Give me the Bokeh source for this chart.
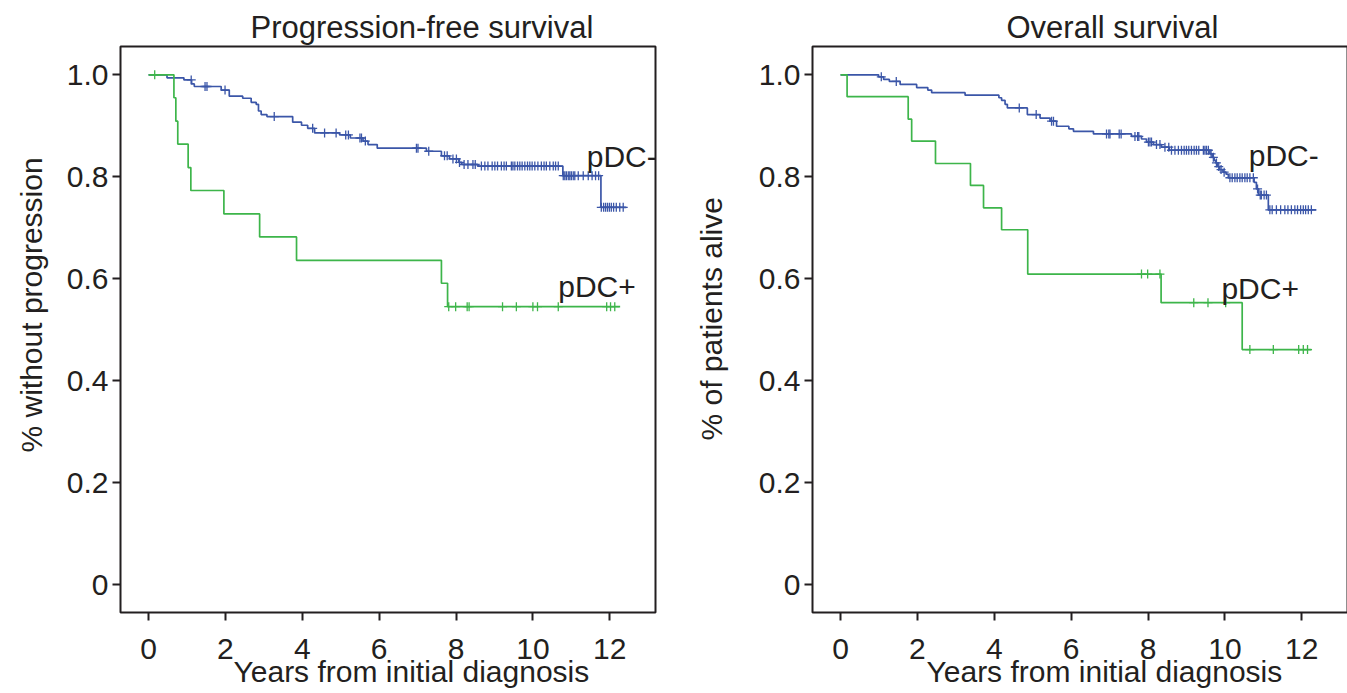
import numpy as np
from bokeh.plotting import figure
from bokeh.layouts import row
from bokeh.models import Range1d, FixedTicker, NumeralTickFormatter, Label, Title
from bokeh.embed import file_html
from bokeh.resources import INLINE

# ---------------- data ----------------
x_ticks = [0, 2, 4, 6, 8, 10, 12]
y_ticks = [0, 0.2, 0.4, 0.6, 0.8, 1]

# Progression-free survival, pDC- (blue)
pfs_neg_t = [0, 0.48, 0.92, 1.12, 1.19, 1.89, 2.10, 2.45, 2.67, 2.80, 2.86, 2.93, 3.08,
             3.75, 3.98, 4.14, 4.32, 4.97, 5.25, 5.58, 5.71, 5.95, 7.23, 7.62, 7.83,
             8.07, 8.15, 8.57, 10.78, 11.77]
pfs_neg_s = [1.0, 0.994, 0.990, 0.982, 0.977, 0.970, 0.958, 0.954, 0.946, 0.942, 0.929,
             0.922, 0.918, 0.907, 0.901, 0.895, 0.886, 0.882, 0.876, 0.870, 0.863, 0.856,
             0.850, 0.841, 0.835, 0.828, 0.824, 0.821, 0.802, 0.740]
pfs_neg_end = 12.43
pfs_neg_cens = [1.11, 1.47, 1.52, 1.99, 3.27, 4.27, 4.58, 4.88, 5.13, 5.20, 5.50, 5.54,
                5.64, 6.97, 7.01, 7.29, 7.70, 7.77, 7.92, 8.01, 8.09, 8.21, 8.31, 8.44,
                8.50, 8.66, 8.75, 8.83, 8.94, 9.01, 9.08, 9.18, 9.25, 9.31, 9.44, 9.48,
                9.53, 9.60, 9.66, 9.72, 9.79, 9.86, 9.92, 9.98, 10.05, 10.13, 10.22,
                10.29, 10.35, 10.44, 10.53, 10.59, 10.66, 10.79, 10.83, 10.87, 10.92,
                10.96, 11.00, 11.05, 11.09, 11.18, 11.31, 11.44, 11.54, 11.63, 11.71,
                11.78, 11.84, 11.89, 11.94, 11.99, 12.04, 12.10, 12.17, 12.26, 12.35]

# Progression-free survival, pDC+ (green)
pfs_pos_t = [0, 0.66, 0.71, 0.76, 1.03, 1.10, 1.96, 2.89, 3.85, 7.62, 7.78]
pfs_pos_s = [1.0, 0.955, 0.909, 0.864, 0.818, 0.773, 0.727, 0.682, 0.636, 0.591, 0.545]
pfs_pos_end = 12.27
pfs_pos_cens = [0.16, 7.81, 7.99, 8.29, 8.34, 9.21, 9.57, 10.00, 10.12, 10.66, 11.92,
                12.02, 12.13]

# Overall survival, pDC- (blue)
os_neg_t = [0, 0.99, 1.12, 1.27, 1.55, 1.98, 2.27, 2.37, 3.24, 4.12, 4.19, 4.28, 4.34,
            4.86, 5.19, 5.45, 5.62, 5.94, 6.06, 6.58, 7.57, 7.83, 7.96, 8.14, 8.35,
            8.55, 9.61, 9.67, 9.72, 9.76, 9.81, 9.86, 9.95, 10.03, 10.09, 10.76, 10.82,
            10.88, 11.13]
os_neg_s = [1.0, 0.996, 0.991, 0.987, 0.981, 0.975, 0.970, 0.965, 0.960, 0.955, 0.950,
            0.942, 0.935, 0.922, 0.915, 0.909, 0.899, 0.894, 0.889, 0.884, 0.879, 0.874,
            0.868, 0.863, 0.858, 0.852, 0.845, 0.838, 0.832, 0.827, 0.820, 0.814, 0.809,
            0.805, 0.798, 0.789, 0.776, 0.764, 0.735]
os_neg_end = 12.38
os_neg_cens = [1.06, 1.45, 4.65, 5.09, 5.49, 5.54, 6.92, 6.98, 7.01, 7.25, 7.30, 7.66,
               7.73, 7.76, 8.01, 8.05, 8.09, 8.22, 8.31, 8.44, 8.54, 8.61, 8.70, 8.79,
               8.87, 8.94, 9.00, 9.06, 9.13, 9.20, 9.26, 9.32, 9.44, 9.48, 9.52, 9.57,
               9.64, 9.70, 9.78, 9.84, 9.90, 9.98, 10.13, 10.19, 10.26, 10.32, 10.39,
               10.45, 10.52, 10.58, 10.65, 10.74, 10.85, 10.92, 10.95, 11.02, 11.08,
               11.17, 11.23, 11.34, 11.45, 11.56, 11.64, 11.73, 11.82, 11.89, 11.97,
               12.04, 12.10, 12.17, 12.25]

# Overall survival, pDC+ (green)
os_pos_t = [0, 0.17, 1.76, 1.85, 2.47, 3.38, 3.72, 4.19, 4.87, 8.34, 10.45]
os_pos_s = [1.0, 0.957, 0.913, 0.870, 0.826, 0.783, 0.739, 0.696, 0.609, 0.553, 0.461]
os_pos_end = 12.25
os_pos_cens = [7.83, 7.99, 8.31, 9.19, 9.56, 10.02, 10.65, 11.26, 11.92, 12.04, 12.15]

BLUE = "#3B56A8"
GREEN = "#3DB54A"
INK = "#231F20"
FONT = "Liberation Sans"
XLABEL = "Years from initial diagnosis"


def km(p, t, s, end, cens, color):
    xs = list(t) + [end]
    ys = list(s) + [s[-1]]
    p.step(x=xs, y=ys, mode="after", line_color=color, line_width=1.7)
    ta = np.array(t)
    idx = np.searchsorted(ta, np.array(cens), side="right") - 1
    cy = [s[i] for i in idx]
    p.scatter(x=cens, y=cy, marker="cross", size=9, line_color=color, line_width=1.3)


def panel(title, title_offset, ylabel, ylabel_offset, ylabel_standoff, xlabel_offset,
          curves, tags, border_left, border_right):
    p = figure(frame_width=535, frame_height=566,
               min_border_left=border_left, min_border_right=border_right,
               min_border_top=46, min_border_bottom=80,
               x_range=Range1d(-0.73, 13.19), y_range=Range1d(-0.0549, 1.0555),
               output_backend="svg", toolbar_location=None, background_fill_color="white",
               border_fill_color="white")
    p.title.text = title
    p.title.align = "left"
    p.title.offset = title_offset
    p.title.standoff = 4
    p.title.text_font = FONT
    p.title.text_font_size = "31px"
    p.title.text_font_style = "normal"
    p.title.text_color = INK

    p.xgrid.visible = False
    p.ygrid.visible = False
    p.outline_line_color = INK
    p.outline_line_width = 2
    p.outline_line_alpha = 1

    for ax in (p.xaxis[0], p.yaxis[0]):
        ax.axis_line_color = None
        ax.major_tick_out = 8
        ax.major_tick_in = 0
        ax.major_tick_line_width = 2
        ax.major_tick_line_color = INK
        ax.minor_tick_line_color = None
        ax.major_label_text_font = FONT
        ax.major_label_text_font_size = "30px"
        ax.major_label_text_color = INK
    p.xaxis[0].ticker = FixedTicker(ticks=x_ticks)
    p.xaxis[0].major_label_standoff = 18
    p.yaxis[0].ticker = FixedTicker(ticks=y_ticks)
    p.yaxis[0].formatter = NumeralTickFormatter(format="0.0")
    p.yaxis[0].major_label_overrides = {0: "0"}
    p.yaxis[0].major_label_standoff = 4

    for c in curves:
        km(p, *c)

    for txt, x, y in tags:
        p.add_layout(Label(x=x, y=y, text=txt, text_font=FONT, text_font_size="30px",
                           text_color=INK, text_align="left", text_baseline="alphabetic"))

    p.add_layout(Title(text=XLABEL, align="left", offset=xlabel_offset, standoff=-14,
                       vertical_align="top", text_font=FONT, text_font_size="30px",
                       text_font_style="normal", text_color=INK), "below")
    p.add_layout(Title(text=ylabel, align="left", offset=ylabel_offset,
                       standoff=ylabel_standoff, vertical_align="top", text_font=FONT,
                       text_font_size="30px", text_font_style="normal", text_color=INK),
                 "left")
    return p


p1 = panel("Progression-free survival", 130, "% without progression", 160, 28, 113,
           [(pfs_neg_t, pfs_neg_s, pfs_neg_end, pfs_neg_cens, BLUE),
            (pfs_pos_t, pfs_pos_s, pfs_pos_end, pfs_pos_cens, GREEN)],
           [("pDC-", 11.40, 0.840), ("pDC+", 10.66, 0.585)],
           119, 5)

p2 = panel("Overall survival", 194, "% of patients alive", 172, 52, 114,
           [(os_neg_t, os_neg_s, os_neg_end, os_neg_cens, BLUE),
            (os_pos_t, os_pos_s, os_pos_end, os_pos_cens, GREEN)],
           [("pDC-", 10.62, 0.842), ("pDC+", 9.91, 0.580)],
           152, 1)

layout = row(p1, p2)
open("out.html", "w").write(file_html(layout, INLINE))
